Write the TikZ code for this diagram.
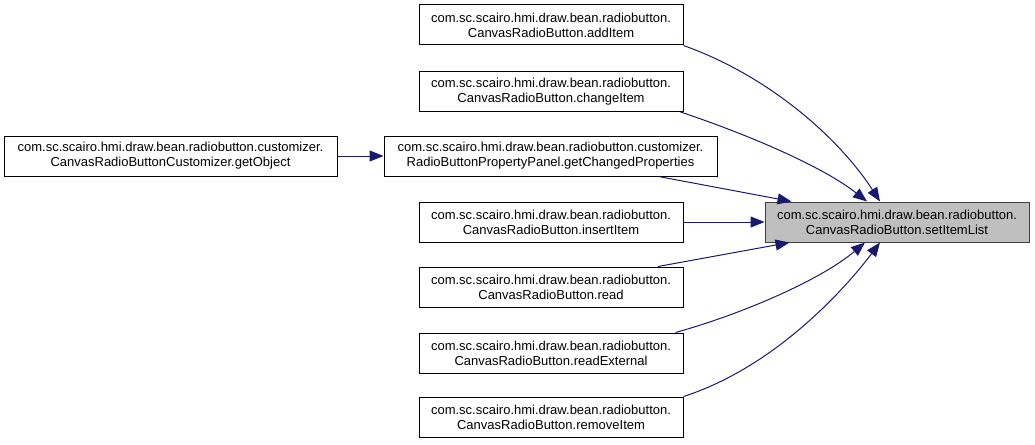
\documentclass[tikz,border=0pt]{standalone}
\usepackage{fontspec}
\setmainfont{Liberation Sans}
\usetikzlibrary{arrows.meta}

\definecolor{edgeblue}{RGB}{25,25,112}
\definecolor{boxgray}{RGB}{191,191,191}

\begin{document}
\begin{tikzpicture}[x=1pt, y=-1pt,
    fn/.style={draw=black, line width=1pt, fill=white, minimum width=264pt, minimum height=40pt,
               inner sep=0pt, align=center, font=\fontsize{13}{15}\selectfont},
    wide/.style={fn, minimum width=333pt},
    focus/.style={fn, fill=boxgray, draw=black!75},
    call/.style={draw=edgeblue, line width=1pt, -{Triangle[length=14pt, width=11pt]}}]
    % Frame
    \useasboundingbox (0,0) rectangle (1035,444);

    % Called function
    \node[focus] (setItemList) at (897,222) {com.sc.scairo.hmi.draw.bean.radiobutton.\\CanvasRadioButton.setItemList};

    % Callers
    \node[fn] (addItem) at (551,25) {com.sc.scairo.hmi.draw.bean.radiobutton.\\CanvasRadioButton.addItem};
    \node[fn] (changeItem) at (551,91.5) {com.sc.scairo.hmi.draw.bean.radiobutton.\\CanvasRadioButton.changeItem};
    \node[wide] (getChangedProperties) at (550.5,156) {com.sc.scairo.hmi.draw.bean.radiobutton.customizer.\\RadioButtonPropertyPanel.getChangedProperties};
    \node[fn] (insertItem) at (551,222) {com.sc.scairo.hmi.draw.bean.radiobutton.\\CanvasRadioButton.insertItem};
    \node[fn] (read) at (551,287) {com.sc.scairo.hmi.draw.bean.radiobutton.\\CanvasRadioButton.read};
    \node[fn] (readExternal) at (551,353) {com.sc.scairo.hmi.draw.bean.radiobutton.\\CanvasRadioButton.readExternal};
    \node[fn] (removeItem) at (551,417) {com.sc.scairo.hmi.draw.bean.radiobutton.\\CanvasRadioButton.removeItem};
    \node[wide] (getObject) at (170.5,156) {com.sc.scairo.hmi.draw.bean.radiobutton.customizer.\\CanvasRadioButtonCustomizer.getObject};

    % Calls
    \draw[call] (addItem.south east) .. controls +(87,31) and +(-40,-62) .. ([xshift=-17pt]setItemList.north);
    \draw[call] ([xshift=-3pt]changeItem.south east) .. controls +(60,20) and +(-47,-37) .. ([xshift=-30pt]setItemList.north);
    \draw[call] ([xshift=108pt]getChangedProperties.south) -- ([xshift=27pt]setItemList.north west);
    \draw[call] (insertItem) -- (setItemList);
    \draw[call] ([xshift=107pt]read.north) -- ([xshift=25pt]setItemList.south west);
    \draw[call] ([xshift=-8pt]readExternal.north east) .. controls +(65,-18) and +(-45,38) .. ([xshift=-32pt]setItemList.south);
    \draw[call] (removeItem.north east) .. controls +(87,-28) and +(-40,53) .. ([xshift=-17pt]setItemList.south);
    \draw[call] (getObject) -- (getChangedProperties);
\end{tikzpicture}
\end{document}
